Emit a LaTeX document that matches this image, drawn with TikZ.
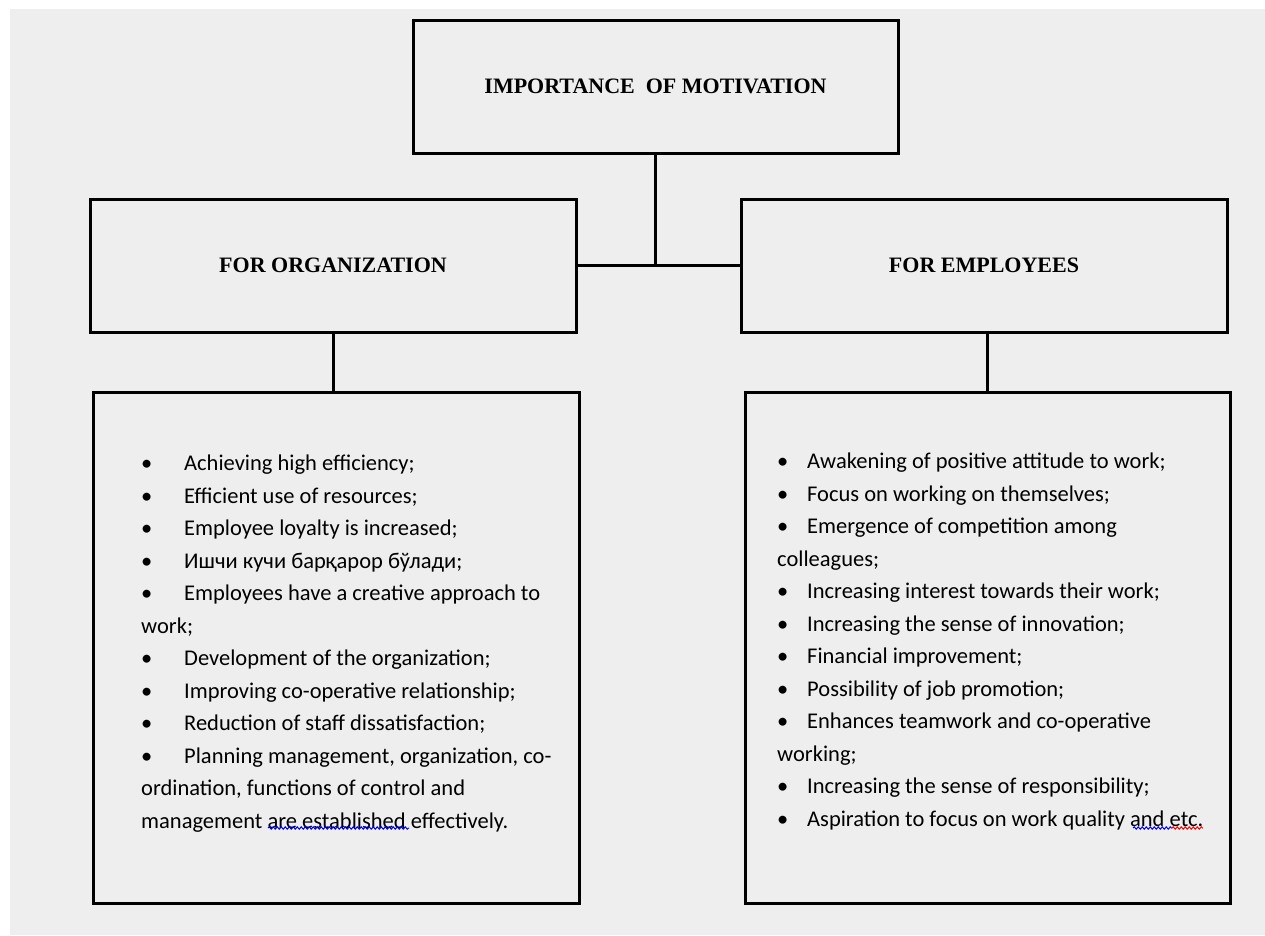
\documentclass[tikz,border=0pt]{standalone}
\usepackage{fontspec}
\usetikzlibrary{decorations.pathmorphing}
\newfontfamily\bodyfont{Carlito}
\newfontfamily\headfont{Liberation Serif}
\definecolor{paper}{HTML}{EEEEEE}
\newcommand\bl[1]{\makebox[#1][l]{\textbullet}}

\begin{document}
\begin{tikzpicture}[x=1pt,y=-1pt,
		box/.style={draw,line width=3pt,inner sep=0pt},
		head/.style={font=\headfont\bfseries\fontsize{22}{26}\selectfont},
		list/.style={align=left,anchor=base west,inner sep=0pt,font=\bodyfont\fontsize{22.5}{32.5}\selectfont},
		wave/.style={line width=1pt,decorate,decoration={snake,amplitude=1.2pt,segment length=4pt}}]
		\useasboundingbox (0,0) rectangle (1265,935);
		\fill[white] (0,0) rectangle (1265,935);
		\fill[paper] (10,9) rectangle (1265,935);
		% boxes
		\node[box,minimum width=485,minimum height=133](top) at (655.5,86.5){};
		\node[head] at (top.center){IMPORTANCE\ \ OF MOTIVATION};
		\node[box,minimum width=486,minimum height=133](org) at (333,265.5){};
		\node[head] at (org.center){FOR ORGANIZATION};
		\node[box,minimum width=486,minimum height=133](emp) at (984,265.5){};
		\node[head] at (emp.center){FOR EMPLOYEES};
		\node[box,minimum width=486,minimum height=511](orglist) at (336,647.5){};
		\node[box,minimum width=485,minimum height=511](emplist) at (987.5,647.5){};
		% connectors
		\draw[line width=3pt] (org.east) -- (emp.west);
		\draw[line width=3pt] (top.south) -- (top.south |- org.east);
		\draw[line width=3pt] (org.south) -- (org.south |- orglist.north);
		\draw[line width=3pt] (emplist.north |- emp.south) -- (emplist.north);
		% lists (base of the block sits under its last line)
		\node[list](orgtext) at (141,828){\bl{43pt}Achieving high efficiency;\\
			\bl{43pt}Efficient use of resources;\\
			\bl{43pt}Employee loyalty is increased;\\
			\bl{43pt}Ишчи кучи барқарор бўлади;\\
			\bl{43pt}Employees have a creative approach to\\
			work;\\
			\bl{43pt}Development of the organization;\\
			\bl{43pt}Improving co-operative relationship;\\
			\bl{43pt}Reduction of staff dissatisfaction;\\
			\bl{43pt}Planning management, organization, co-\\
			ordination, functions of control and\\
			management are established effectively.};
		\node[list](emptext) at (777,826){\bl{30pt}Awakening of positive attitude to work;\\
			\bl{30pt}Focus on working on themselves;\\
			\bl{30pt}Emergence of competition among\\
			colleagues;\\
			\bl{30pt}Increasing interest towards their work;\\
			\bl{30pt}Increasing the sense of innovation;\\
			\bl{30pt}Financial improvement;\\
			\bl{30pt}Possibility of job promotion;\\
			\bl{30pt}Enhances teamwork and co-operative\\
			working;\\
			\bl{30pt}Increasing the sense of responsibility;\\
			\bl{30pt}Aspiration to focus on work quality and etc.};
		% spelling marks
		\draw[blue,wave] (268,828) -- (409,828);
		\draw[blue,wave] (1133,828) -- (1172,828);
		\draw[red,wave] (1172,828) -- (1203,828);
	\end{tikzpicture}
\end{document}
